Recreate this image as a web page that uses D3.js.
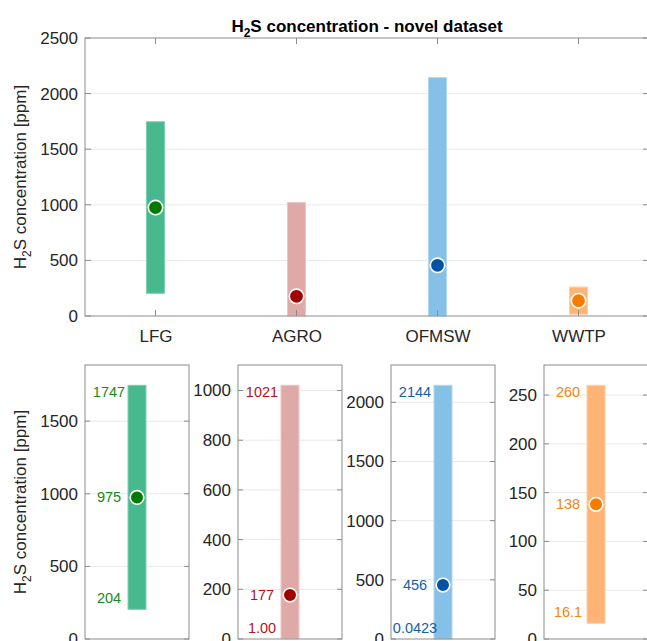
<!DOCTYPE html>
<html><head><meta charset="utf-8">
<script src="https://cdn.jsdelivr.net/npm/d3@7"></script>
<style>
html,body{margin:0;padding:0;background:#fff;}
text{font-family:"Liberation Sans",Arial,sans-serif;}
</style></head>
<body><svg id="chart" width="647" height="641"></svg>
<script>
const categories = ["LFG", "AGRO", "OFMSW", "WWTP"];
const minValues = [204, 1.00, 0.0423, 16.1];
const maxValues = [1747, 1021, 2144, 260];
const medianValues = [975, 177, 456, 138];
const minLabels = ["204", "1.00", "0.0423", "16.1"];
const maxLabels = ["1747", "1021", "2144", "260"];
const medianLabels = ["975", "177", "456", "138"];
const topTicks = [0, 500, 1000, 1500, 2000, 2500];
const panelTicks = [
  [0, 500, 1000, 1500],
  [0, 200, 400, 600, 800, 1000],
  [0, 500, 1000, 1500, 2000],
  [0, 50, 100, 150, 200, 250]
];
const barColors = ["#48b98f", "#dfa9a7", "#85c0e6", "#ffb375"];
const barEdges = ["#7fd0b2", "#ecc6c4", "#b0d8f1", "#ffd0a8"];
const markerColors = ["#007a00", "#a30000", "#0052a3", "#f57c00"];
const labelColors = ["#168a16", "#b0141c", "#155eaa", "#f5850f"];

const svg = d3.select("#chart");
svg.append("rect").attr("width", 647).attr("height", 641).attr("fill", "#fff");

const axisColor = "#8c8c8c", gridColor = "#e8e8e8", tickText = "#262626";
const FS = 17;
const fmt = d => String(d);

function yLabel(g, cx, cy) {
  const t = g.append("text")
    .attr("transform", `translate(${cx},${cy}) rotate(-90)`)
    .attr("text-anchor", "middle")
    .attr("font-size", FS).attr("fill", tickText);
  t.append("tspan").text("H");
  t.append("tspan").text("2").attr("font-size", 12).attr("dy", 5);
  t.append("tspan").text("S concentration [ppm]").attr("dy", -5);
}

// ---------- Top chart ----------
const T = { l: 85, r: 649, t: 38, b: 316 };
const xTop = d3.scaleLinear().domain([0.5, 4.5]).range([T.l, T.r]);
const yTop = d3.scaleLinear().domain([0, 2500]).range([T.b, T.t]);
const gTop = svg.append("g");

gTop.selectAll("line.grid").data(topTicks.slice(1, -1)).join("line")
  .attr("x1", T.l).attr("x2", T.r)
  .attr("y1", d => yTop(d)).attr("y2", d => yTop(d))
  .attr("stroke", gridColor).attr("stroke-width", 1);

const bw = 18;
categories.forEach((c, i) => {
  gTop.append("rect")
    .attr("x", xTop(i + 1) - bw / 2).attr("width", bw)
    .attr("y", yTop(maxValues[i])).attr("height", yTop(minValues[i]) - yTop(maxValues[i]))
    .attr("fill", barColors[i]).attr("stroke", barEdges[i]).attr("stroke-width", 1);
});
categories.forEach((c, i) => {
  gTop.append("circle")
    .attr("cx", xTop(i + 1)).attr("cy", yTop(medianValues[i])).attr("r", 7.2)
    .attr("fill", markerColors[i]).attr("stroke", "#fff").attr("stroke-width", 1.6);
});

const yAxTop = d3.axisLeft(yTop).tickValues(topTicks).tickFormat(fmt).tickSize(0).tickPadding(7);
const gyt = gTop.append("g").attr("transform", `translate(${T.l},0)`).call(yAxTop);
gyt.select(".domain").remove();
gyt.selectAll("text").attr("font-size", FS).attr("fill", tickText).attr("font-family", "Liberation Sans, Arial, sans-serif");
const xAxTop = d3.axisBottom(xTop).tickValues([1, 2, 3, 4]).tickFormat((d) => categories[d - 1]).tickSize(0).tickPadding(14);
const gxt = gTop.append("g").attr("transform", `translate(0,${T.b})`).call(xAxTop);
gxt.select(".domain").remove();
gxt.selectAll("text").attr("font-size", FS).attr("fill", tickText).attr("font-family", "Liberation Sans, Arial, sans-serif");

gTop.append("rect").attr("x", T.l).attr("y", T.t).attr("width", T.r - T.l).attr("height", T.b - T.t)
  .attr("fill", "none").attr("stroke", axisColor).attr("stroke-width", 1);
[1, 2, 3, 4].forEach(v => {
  gTop.append("line").attr("x1", xTop(v)).attr("x2", xTop(v)).attr("y1", T.b).attr("y2", T.b - 6).attr("stroke", axisColor);
  gTop.append("line").attr("x1", xTop(v)).attr("x2", xTop(v)).attr("y1", T.t).attr("y2", T.t + 6).attr("stroke", axisColor);
});
topTicks.forEach(v => {
  gTop.append("line").attr("x1", T.l).attr("x2", T.l + 6).attr("y1", yTop(v)).attr("y2", yTop(v)).attr("stroke", axisColor);
  gTop.append("line").attr("x1", T.r - 6).attr("x2", T.r).attr("y1", yTop(v)).attr("y2", yTop(v)).attr("stroke", axisColor);
});

const title = svg.append("text").attr("x", (T.l + T.r) / 2).attr("y", 32)
  .attr("text-anchor", "middle").attr("font-size", FS).attr("font-weight", "bold").attr("fill", "#000");
title.append("tspan").text("H");
title.append("tspan").text("2").attr("font-size", 12).attr("dy", 5);
title.append("tspan").text("S concentration - novel dataset").attr("dy", -5);

yLabel(svg, 26, (T.t + T.b) / 2);

// ---------- Bottom panels ----------
const pTop = 365, pBot = 639, pW = 104, pStep = 153, pL0 = 85;
categories.forEach((c, i) => {
  const l = pL0 + i * pStep, r = l + pW;
  const g = svg.append("g");
  const y = d3.scaleLinear().domain([0, maxValues[i] * 1.08]).range([pBot, pTop]);
  const x = d3.scaleLinear().domain([0, 2]).range([l, r]);
  const ticks = panelTicks[i];
  g.selectAll("line.grid").data(ticks.slice(1)).join("line")
    .attr("x1", l).attr("x2", r).attr("y1", d => y(d)).attr("y2", d => y(d))
    .attr("stroke", gridColor);
  const cx = x(1);
  g.append("rect").attr("x", cx - bw / 2).attr("width", bw)
    .attr("y", y(maxValues[i])).attr("height", y(minValues[i]) - y(maxValues[i]))
    .attr("fill", barColors[i]).attr("stroke", barEdges[i]).attr("stroke-width", 1);
  g.append("circle").attr("cx", cx).attr("cy", y(medianValues[i])).attr("r", 6.8)
    .attr("fill", markerColors[i]).attr("stroke", "#fff").attr("stroke-width", 1.6);

  const lx = cx - bw / 2 - 19;
  const lab = (txt, yy) => g.append("text").attr("x", lx).attr("y", yy)
    .attr("text-anchor", "middle").attr("dominant-baseline", "central")
    .attr("font-size", 14.5).attr("fill", labelColors[i]).text(txt);
  lab(maxLabels[i], y(maxValues[i]) + 7);
  lab(medianLabels[i], y(medianValues[i]));
  lab(minLabels[i], y(minValues[i]) - 11);

  const ya = d3.axisLeft(y).tickValues(ticks).tickFormat(fmt).tickSize(0).tickPadding(7);
  const gy = g.append("g").attr("transform", `translate(${l},0)`).call(ya);
  gy.select(".domain").remove();
  gy.selectAll("text").attr("font-size", FS).attr("fill", tickText).attr("font-family", "Liberation Sans, Arial, sans-serif");

  g.append("rect").attr("x", l).attr("y", pTop).attr("width", pW).attr("height", pBot - pTop)
    .attr("fill", "none").attr("stroke", axisColor);
  ticks.forEach(v => {
    g.append("line").attr("x1", l).attr("x2", l + 5).attr("y1", y(v)).attr("y2", y(v)).attr("stroke", axisColor);
    g.append("line").attr("x1", r - 5).attr("x2", r).attr("y1", y(v)).attr("y2", y(v)).attr("stroke", axisColor);
  });
});

yLabel(svg, 26, (pTop + pBot) / 2);
</script>
</body></html>
